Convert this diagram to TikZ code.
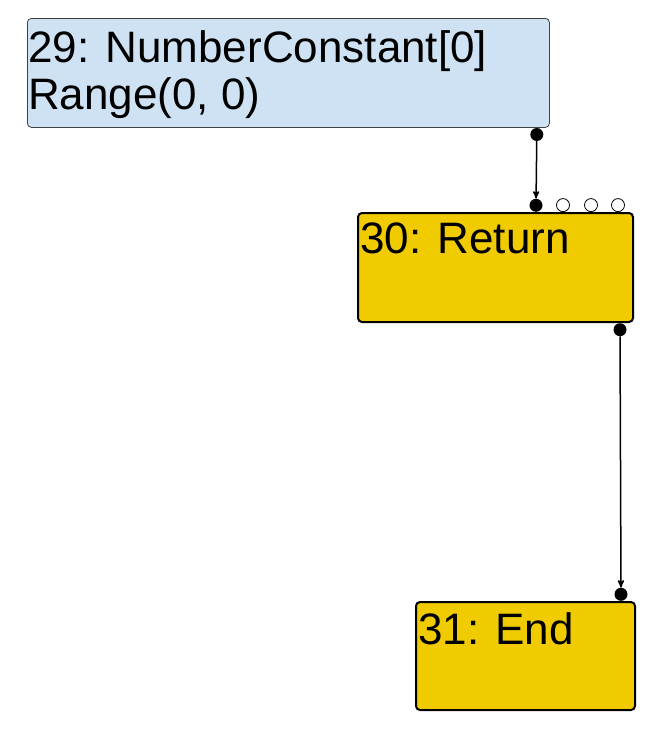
\documentclass[tikz,border=0pt]{standalone}
\usepackage{fontspec}
\setmainfont{Liberation Sans}
\usetikzlibrary{positioning}
\usetikzlibrary{arrows}
\definecolor{constblue}{HTML}{CFE2F3}
\definecolor{ctrlgold}{HTML}{F0CB00}
\tikzset{
    block/.style={
        rectangle,
        rounded corners=4pt,
        anchor=north west,
        inner sep=0pt
    },
    constblock/.style={
        block,
        draw=black!75,
        line width=0.8pt,
        fill=constblue
    },
    ctrlblock/.style={
        block,
        draw=black,
        line width=2pt,
        fill=ctrlgold
    },
    blocktext/.style={
        anchor=north west,
        inner sep=0pt,
        align=left,
        font=\fontsize{44}{47}\selectfont
    },
    port/.style={
        circle,
        inner sep=0pt,
        minimum size=13pt
    },
    usedport/.style={
        port,
        fill=black
    },
    freeport/.style={
        port,
        draw=black,
        line width=0.8pt,
        fill=white
    },
    every edge/.append style={
        draw,
        ->,>=stealth',
        line width=1.5pt
    }
}
\begin{document}
\begin{tikzpicture}[x=1pt,y=-1pt]
                        \useasboundingbox (0,0) rectangle (654,731);

                        \node[constblock, minimum width=522pt, minimum height=109pt] (n29) at (27,18) {};
                        \node[ctrlblock, minimum width=275pt, minimum height=109pt] (n30) at (357,212) {};
                        \node[ctrlblock, minimum width=219pt, minimum height=108pt] (n31) at (415,601) {};

                        \node[blocktext] (t29) at ([xshift=1pt,yshift=-12pt]n29.north west) {29: NumberConstant[0]\\Range(0, 0)};
                        \node[blocktext] (t30) at ([xshift=3pt,yshift=-11pt]n30.north west) {30: Return};
                        \node[blocktext] (t31) at ([xshift=3pt,yshift=-11pt]n31.north west) {31: End};

                        \node[usedport, anchor=north] (o29) at ([xshift=-13pt]n29.south east) {};
                        \node[usedport, anchor=south] (i30a) at ([xshift=179pt]n30.north west) {};
                        \node[freeport, anchor=south] (i30b) at ([xshift=206pt]n30.north west) {};
                        \node[freeport, anchor=south] (i30c) at ([xshift=234pt]n30.north west) {};
                        \node[freeport, anchor=south] (i30d) at ([xshift=261pt]n30.north west) {};
                        \node[usedport, anchor=north] (o30) at ([xshift=-14pt]n30.south east) {};
                        \node[usedport, anchor=south] (i31) at ([xshift=206pt]n31.north west) {};

                        \draw (o29) edge (i30a);
                        \draw (o30) edge (i31);
                    \end{tikzpicture}
\end{document}
